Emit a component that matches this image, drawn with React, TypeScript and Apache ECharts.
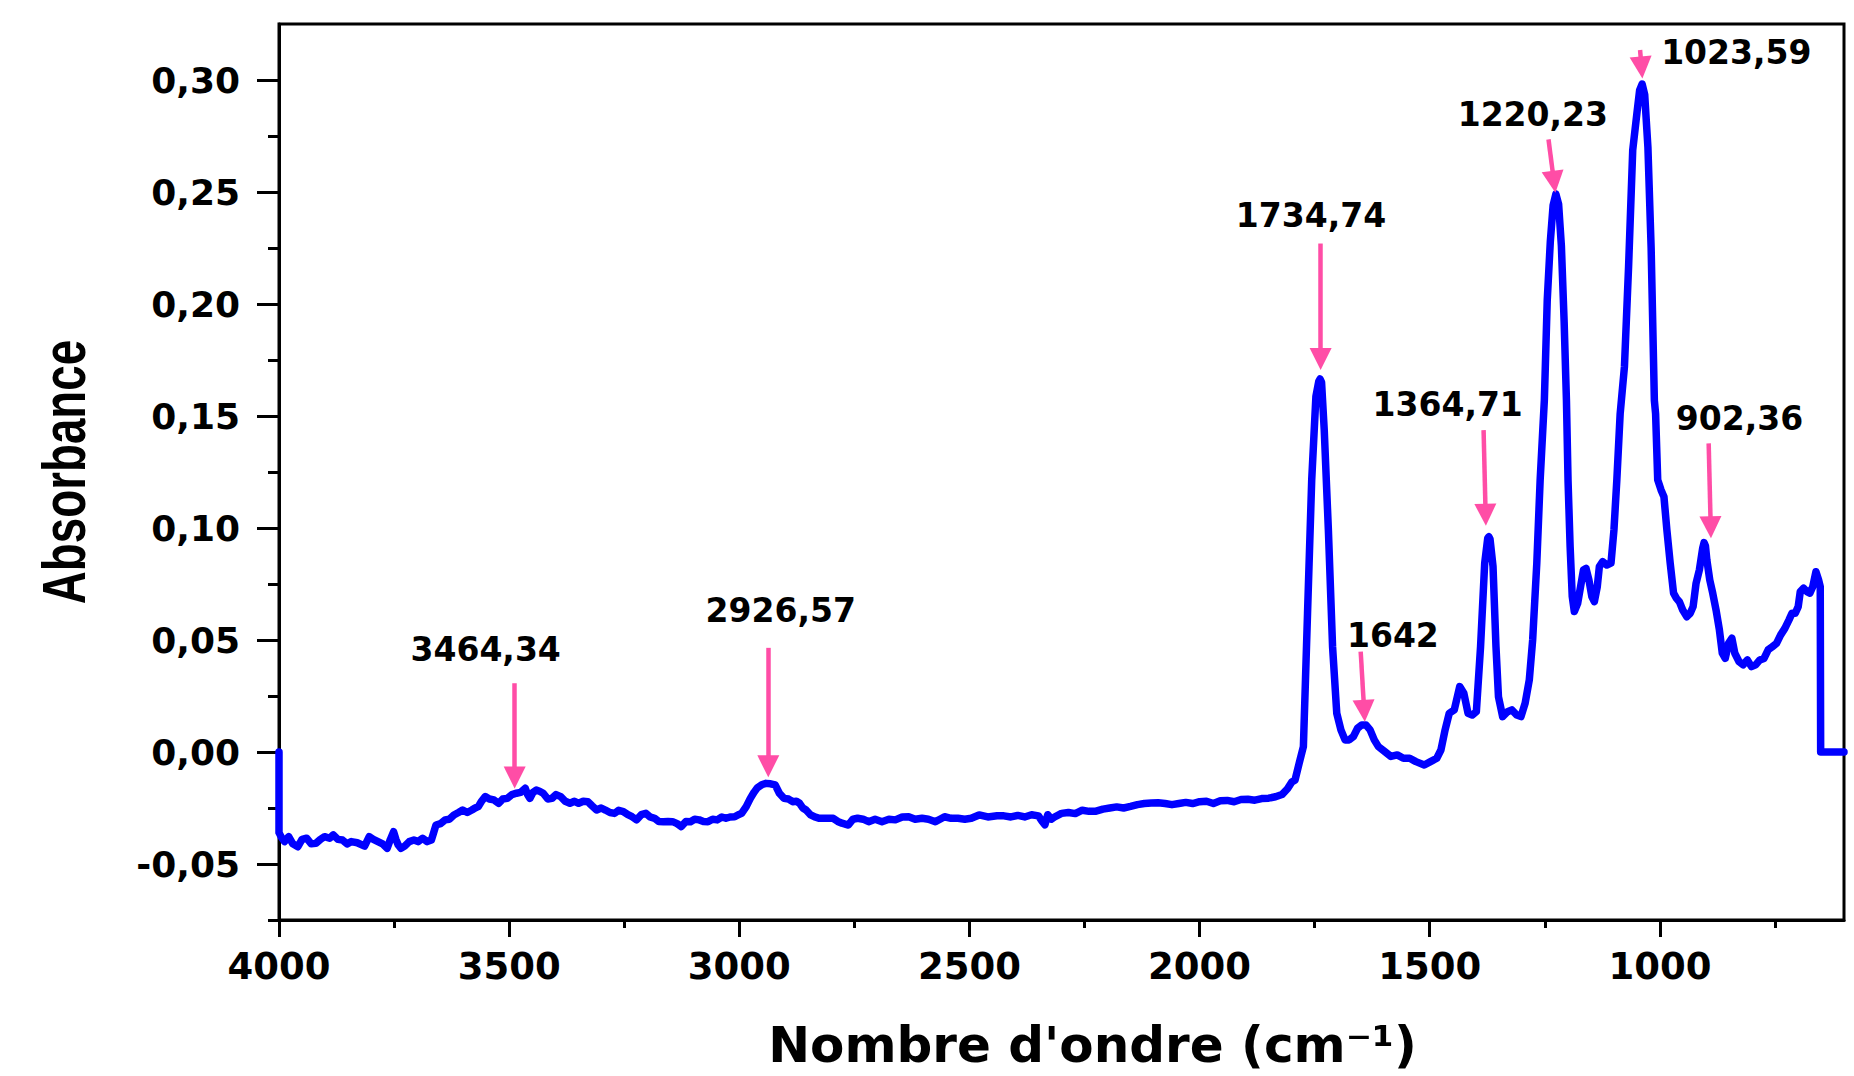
import React, { useEffect, useRef } from "react";
import * as echarts from "echarts";

// ---------- DATA ----------
const wavenumbers: number[] = [
  4000, 4000, 3995, 3988, 3979, 3970, 3959, 3950, 3940, 3930, 3920, 3910, 3901, 3890, 3882, 3872, 3862, 3852, 3843, 3830,
  3814, 3804, 3795, 3785, 3775, 3765, 3758, 3751, 3746, 3741, 3735, 3727, 3717, 3707, 3698, 3688, 3678, 3669, 3664, 3659,
  3649, 3639, 3630, 3620, 3610, 3601, 3591, 3581, 3574, 3567, 3560, 3552, 3543, 3533, 3523, 3514, 3504, 3494, 3484, 3475,
  3465, 3460, 3455, 3448, 3441, 3434, 3426, 3416, 3407, 3398, 3388, 3378, 3368, 3358, 3349, 3339, 3329, 3320, 3310, 3300,
  3291, 3281, 3271, 3262, 3252, 3242, 3233, 3223, 3213, 3203, 3194, 3184, 3175, 3165, 3155, 3145, 3135, 3126, 3116, 3106,
  3097, 3087, 3078, 3068, 3058, 3048, 3038, 3029, 3020, 3010, 3002, 2995, 2985, 2976, 2968, 2961, 2950, 2942, 2932, 2922,
  2913, 2903, 2893, 2884, 2876, 2869, 2862, 2855, 2845, 2836, 2826, 2811, 2796, 2786, 2777, 2763, 2753, 2743, 2731, 2719,
  2705, 2690, 2675, 2661, 2646, 2632, 2618, 2603, 2589, 2574, 2564, 2554, 2540, 2525, 2510, 2496, 2479, 2460, 2440, 2425,
  2410, 2395, 2380, 2365, 2350, 2342, 2336, 2330, 2322, 2315, 2300, 2285, 2270, 2255, 2240, 2225, 2210, 2195, 2180, 2165,
  2150, 2135, 2120, 2105, 2090, 2075, 2060, 2045, 2030, 2015, 2000, 1985, 1970, 1955, 1940, 1925, 1910, 1895, 1880, 1865,
  1850, 1835, 1821, 1809, 1800, 1792.6, 1783.6, 1774.5, 1770, 1765.5, 1756.4, 1747.3, 1741, 1738.3, 1735, 1729.2, 1720.2, 1711.1, 1702, 1693,
  1684, 1675, 1665.8, 1656.8, 1647.7, 1638.7, 1629.6, 1620.5, 1611.5, 1597.9, 1584.3, 1570.7, 1557.2, 1543.6, 1530, 1511.9, 1498.3, 1484.7, 1475.7, 1466.6,
  1457.6, 1446.7, 1434.9, 1425.9, 1416.8, 1407.7, 1398.7, 1389.6, 1380.6, 1374, 1371.5, 1369, 1362.5, 1356.1, 1350.7, 1341.6, 1330.8, 1321.7, 1310.8, 1301.8,
  1292.7, 1283.7, 1276.4, 1267.4, 1260.1, 1251, 1244.7, 1238, 1232, 1226, 1220, 1214, 1208, 1203, 1199.5, 1195, 1190.4, 1185.9, 1178.6, 1172.3,
  1166, 1160.5, 1154.2, 1147.8, 1142.4, 1136, 1131.5, 1124.3, 1115.2, 1106.2, 1099.8, 1093.5, 1086.3, 1077, 1068, 1059, 1050, 1044, 1038.5, 1033,
  1026, 1019, 1012, 1009.3, 1004.7, 997.5, 991.2, 984.8, 977.6, 970.3, 964, 957.7, 950.4, 941.4, 934.1, 927.8, 921.4, 914.2, 907, 904,
  901, 897.9, 891.6, 885.2, 878, 870.7, 864.4, 858, 850.8, 843.6, 837.2, 828.2, 819.1, 810, 801, 792, 782.9, 773.8, 764.8, 755.7,
  746.6, 737.6, 728.5, 719.5, 713.1, 705.9, 699.5, 695, 687.8, 680.5, 674.2, 667.9, 661, 655.2, 651.6, 650.7, 600
];

const absorbance: number[] = [
  0.0, -0.036, -0.038, -0.040, -0.0378, -0.041, -0.0423, -0.039, -0.0385, -0.041, -0.0408, -0.039, -0.0378, -0.0385, -0.037, -0.039, -0.0393, -0.041, -0.040, -0.0405,
  -0.042, -0.0378, -0.039, -0.040, -0.041, -0.043, -0.039, -0.0356, -0.039, -0.0415, -0.043, -0.042, -0.040, -0.0393, -0.040, -0.0385, -0.040, -0.0393, -0.036, -0.0326,
  -0.032, -0.0303, -0.030, -0.0281, -0.027, -0.0259, -0.027, -0.0259, -0.025, -0.0244, -0.022, -0.0199, -0.021, -0.0214, -0.0229, -0.021, -0.0207, -0.019, -0.0184, -0.018,
  -0.0162, -0.019, -0.0207, -0.018, -0.017, -0.0175, -0.0184, -0.021, -0.0207, -0.019, -0.0199, -0.022, -0.0229, -0.022, -0.0229, -0.022, -0.0222, -0.024, -0.0259, -0.025,
  -0.0259, -0.027, -0.0274, -0.026, -0.0266, -0.028, -0.0289, -0.0303, -0.028, -0.0274, -0.029, -0.0296, -0.031, -0.0311, -0.031, -0.0311, -0.032, -0.0333, -0.031, -0.0311,
  -0.030, -0.0303, -0.031, -0.0311, -0.030, -0.0303, -0.029, -0.0296, -0.029, -0.0289, -0.028, -0.0274, -0.0244, -0.0207, -0.018, -0.016, -0.0145, -0.014, -0.0142, -0.0147,
  -0.0184, -0.0207, -0.021, -0.0222, -0.022, -0.0229, -0.025, -0.0259, -0.0281, -0.029, -0.0296, -0.0296, -0.0296, -0.031, -0.0318, -0.0326, -0.030, -0.0296, -0.030, -0.0311,
  -0.030, -0.0311, -0.030, -0.0303, -0.029, -0.0289, -0.030, -0.0296, -0.030, -0.0311, -0.030, -0.0289, -0.0296, -0.0296, -0.030, -0.0296, -0.0281, -0.029, -0.0285, -0.0285,
  -0.029, -0.0283, -0.029, -0.028, -0.0285, -0.031, -0.0325, -0.028, -0.030, -0.029, -0.0274, -0.027, -0.0275, -0.026, -0.0265, -0.0264, -0.0255, -0.025, -0.0245, -0.025,
  -0.0243, -0.0235, -0.023, -0.0228, -0.0227, -0.023, -0.0235, -0.023, -0.0225, -0.023, -0.0222, -0.022, -0.023, -0.0218, -0.0216, -0.0222, -0.0212, -0.0211, -0.0215, -0.0208,
  -0.0206, -0.020, -0.019, -0.0164, -0.0135, -0.0125, -0.005, 0.0024, 0.032, 0.0619, 0.1215, 0.1587, 0.1655, 0.1665, 0.165, 0.1438, 0.0991, 0.047, 0.0173, 0.0099,
  0.0054, 0.0054, 0.0069, 0.0106, 0.0121, 0.0121, 0.0099, 0.0054, 0.0024, 0.0002, -0.002, -0.0013, -0.0028, -0.0028, -0.0043, -0.0058, -0.0043, -0.0028, 0.0009, 0.0099,
  0.0173, 0.0188, 0.0292, 0.0262, 0.0173, 0.0165, 0.018, 0.047, 0.0843, 0.0955, 0.0961, 0.095, 0.0828, 0.047, 0.0247, 0.0158, 0.018, 0.0188, 0.0165, 0.0158,
  0.0218, 0.0322, 0.05, 0.0843, 0.1215, 0.157, 0.2018, 0.228, 0.244, 0.2491, 0.2445, 0.226, 0.192, 0.157, 0.121, 0.0917, 0.0694, 0.0627, 0.0664, 0.0738,
  0.0813, 0.082, 0.0768, 0.0694, 0.0671, 0.0738, 0.0828, 0.085, 0.0835, 0.0843, 0.0991, 0.1215, 0.151, 0.172, 0.2167, 0.2687, 0.285, 0.2955, 0.2982, 0.2935,
  0.27, 0.225, 0.157, 0.151, 0.1215, 0.117, 0.114, 0.0991, 0.0843, 0.0709, 0.0686, 0.0671, 0.0634, 0.0604, 0.0619, 0.0649, 0.0753, 0.0813, 0.091, 0.0935,
  0.092, 0.0857, 0.0768, 0.0709, 0.0634, 0.0545, 0.0441, 0.0418, 0.0485, 0.0508, 0.0441, 0.0404, 0.0389, 0.0411, 0.0381, 0.0389, 0.0411, 0.0418, 0.0456, 0.047,
  0.0485, 0.0523, 0.0552, 0.059, 0.0619, 0.0619, 0.0649, 0.0716, 0.0731, 0.0716, 0.0709, 0.0738, 0.0805, 0.0768, 0.0738, 0.0, 0.0
];

const xTickValues = [1000, 1500, 2000, 2500, 3000, 3500, 4000];
const xMinorTickValues = [750, 1250, 1750, 2250, 2750, 3250, 3750];
const yTickValues = [-0.05, 0, 0.05, 0.1, 0.15, 0.2, 0.25, 0.3];
const yMinorTickValues = [-0.075, -0.025, 0.025, 0.075, 0.125, 0.175, 0.225, 0.275];

const peakLabels = ["3464,34", "2926,57", "1734,74", "1642", "1364,71", "1220,23", "1023,59", "902,36"];
const peakLabelX = [3551, 2910, 1758, 1580, 1461, 1276, 834, 827];
const peakLabelY = [0.0457, 0.063, 0.2397, 0.0522, 0.155, 0.2844, 0.3124, 0.1489];
const arrowFromX = [3488, 2937, 1737, 1650, 1383, 1242, 1043, 894];
const arrowFromY = [0.0307, 0.0465, 0.227, 0.0448, 0.1437, 0.2735, 0.3134, 0.1378];
const arrowTipX = [3488, 2937, 1737, 1641, 1378, 1227, 1038, 889];
const arrowTipY = [-0.0163, -0.0113, 0.1705, 0.0135, 0.101, 0.2497, 0.3007, 0.0954];

const X_TITLE = "Nombre d'ondre (cm\u207B\u00B9)";
const Y_TITLE = "Absorbance";

export default function App() {
  const ref = useRef<HTMLDivElement>(null);

  useEffect(() => {
    if (!ref.current) return;
    const chart = echarts.init(ref.current, null, { renderer: "svg" });
    const font = "DejaVu Sans";
    const pink = "#ff4da6";
    const arrowHead = 22;

    const spectrum = wavenumbers.map((w, i) => [w, absorbance[i]]);
    const peaks = peakLabels.map((t, i) => [peakLabelX[i], peakLabelY[i], t]);

    const baseX = { type: "value", min: 600, max: 4000, inverse: true, splitLine: { show: false } };
    const baseY = { type: "value", min: -0.075, max: 0.325, splitLine: { show: false } };

    const option: any = {
      animation: false,
      backgroundColor: "#ffffff",
      grid: {
        left: 279, top: 24, right: 10, bottom: 156,
        show: true, borderColor: "#000", borderWidth: 3, backgroundColor: "transparent",
      },
      xAxis: [
        {
          ...baseX,
          position: "bottom",
          axisLine: { show: true, onZero: false, lineStyle: { color: "#000", width: 3 } },
          axisTick: { show: true, length: 17, lineStyle: { color: "#000", width: 3 }, customValues: xTickValues },
          axisLabel: {
            show: true, customValues: xTickValues, margin: 28, color: "#000",
            fontFamily: font, fontWeight: "bold", fontSize: 37,
            formatter: (v: number) => String(v),
          },
          name: X_TITLE,
          nameLocation: "middle",
          nameGap: 100,
          nameTextStyle: { fontFamily: font, fontWeight: "bold", fontSize: 50, color: "#000", padding: [0, 0, 0, 62] },
        },
        {
          ...baseX,
          position: "bottom",
          axisLine: { show: false, onZero: false },
          axisTick: { show: true, length: 8, lineStyle: { color: "#000", width: 3 }, customValues: xMinorTickValues },
          axisLabel: { show: false },
        },
      ],
      yAxis: [
        {
          ...baseY,
          position: "left",
          axisLine: { show: true, onZero: false, lineStyle: { color: "#000", width: 3 } },
          axisTick: { show: true, length: 22, lineStyle: { color: "#000", width: 3 }, customValues: yTickValues },
          axisLabel: {
            show: true, customValues: yTickValues, margin: 39, color: "#000",
            fontFamily: font, fontWeight: "bold", fontSize: 36,
            formatter: (v: number) => v.toFixed(2).replace(".", ","),
          },
        },
        {
          ...baseY,
          position: "left",
          offset: 0,
          axisLine: { show: false, onZero: false },
          axisTick: { show: true, length: 11, lineStyle: { color: "#000", width: 3 }, customValues: yMinorTickValues },
          axisLabel: { show: false },
        },
      ],
      graphic: [
        {
          type: "text",
          x: 64,
          y: 472,
          rotation: Math.PI / 2,
          scaleX: 0.75,
          z: 100,
          style: {
            text: Y_TITLE,
            fill: "#000",
            fontFamily: "Liberation Sans",
            fontWeight: "bold",
            fontSize: 61,
            align: "center",
            verticalAlign: "middle",
          },
        },
      ],
      series: [
        {
          id: "spectrum",
          type: "line",
          xAxisIndex: 0,
          yAxisIndex: 0,
          data: spectrum,
          showSymbol: false,
          symbol: "none",
          lineStyle: { color: "#0000ff", width: 7.5, join: "round", cap: "round" },
          z: 3,
        },
        {
          id: "peaks",
          type: "scatter",
          xAxisIndex: 0,
          yAxisIndex: 0,
          data: peaks,
          symbol: "circle",
          symbolSize: 1,
          itemStyle: { color: "rgba(0,0,0,0)", opacity: 1 },
          silent: true,
          z: 6,
          label: {
            show: true,
            position: "inside",
            formatter: (p: any) => p.value[2],
            color: "#000",
            opacity: 1,
            textBorderWidth: 0,
            fontFamily: font,
            fontWeight: "bold",
            fontSize: 33,
          },
        },
      ],
    };

    chart.setOption(option);

    const arrowData = arrowFromX.map((fx, i) => {
      const from = [fx, arrowFromY[i]];
      const tip = [arrowTipX[i], arrowTipY[i]];
      const p1 = chart.convertToPixel({ seriesIndex: 0 }, from) as number[];
      const p2 = chart.convertToPixel({ seriesIndex: 0 }, tip) as number[];
      const dx = p2[0] - p1[0];
      const dy = p2[1] - p1[1];
      const len = Math.hypot(dx, dy) || 1;
      const endPx = [p2[0] - (dx / len) * (arrowHead / 2), p2[1] - (dy / len) * (arrowHead / 2)];
      const end = chart.convertFromPixel({ seriesIndex: 0 }, endPx) as number[];
      return [{ coord: from }, { coord: end }];
    });

    chart.setOption({
      series: [
        {
          id: "spectrum",
          markLine: {
            silent: true,
            animation: false,
            symbol: ["none", "triangle"],
            symbolSize: arrowHead,
            label: { show: false },
            lineStyle: { color: pink, width: 4.5, type: "solid" },
            itemStyle: { color: pink },
            emphasis: { disabled: true },
            data: arrowData,
            z: 5,
          },
        },
      ],
    });

    return () => chart.dispose();
  }, []);

  return (
    <div
      ref={ref}
      style={{ position: "absolute", left: 0, top: 0, width: 1854, height: 1076, background: "#fff" }}
    />
  );
}
